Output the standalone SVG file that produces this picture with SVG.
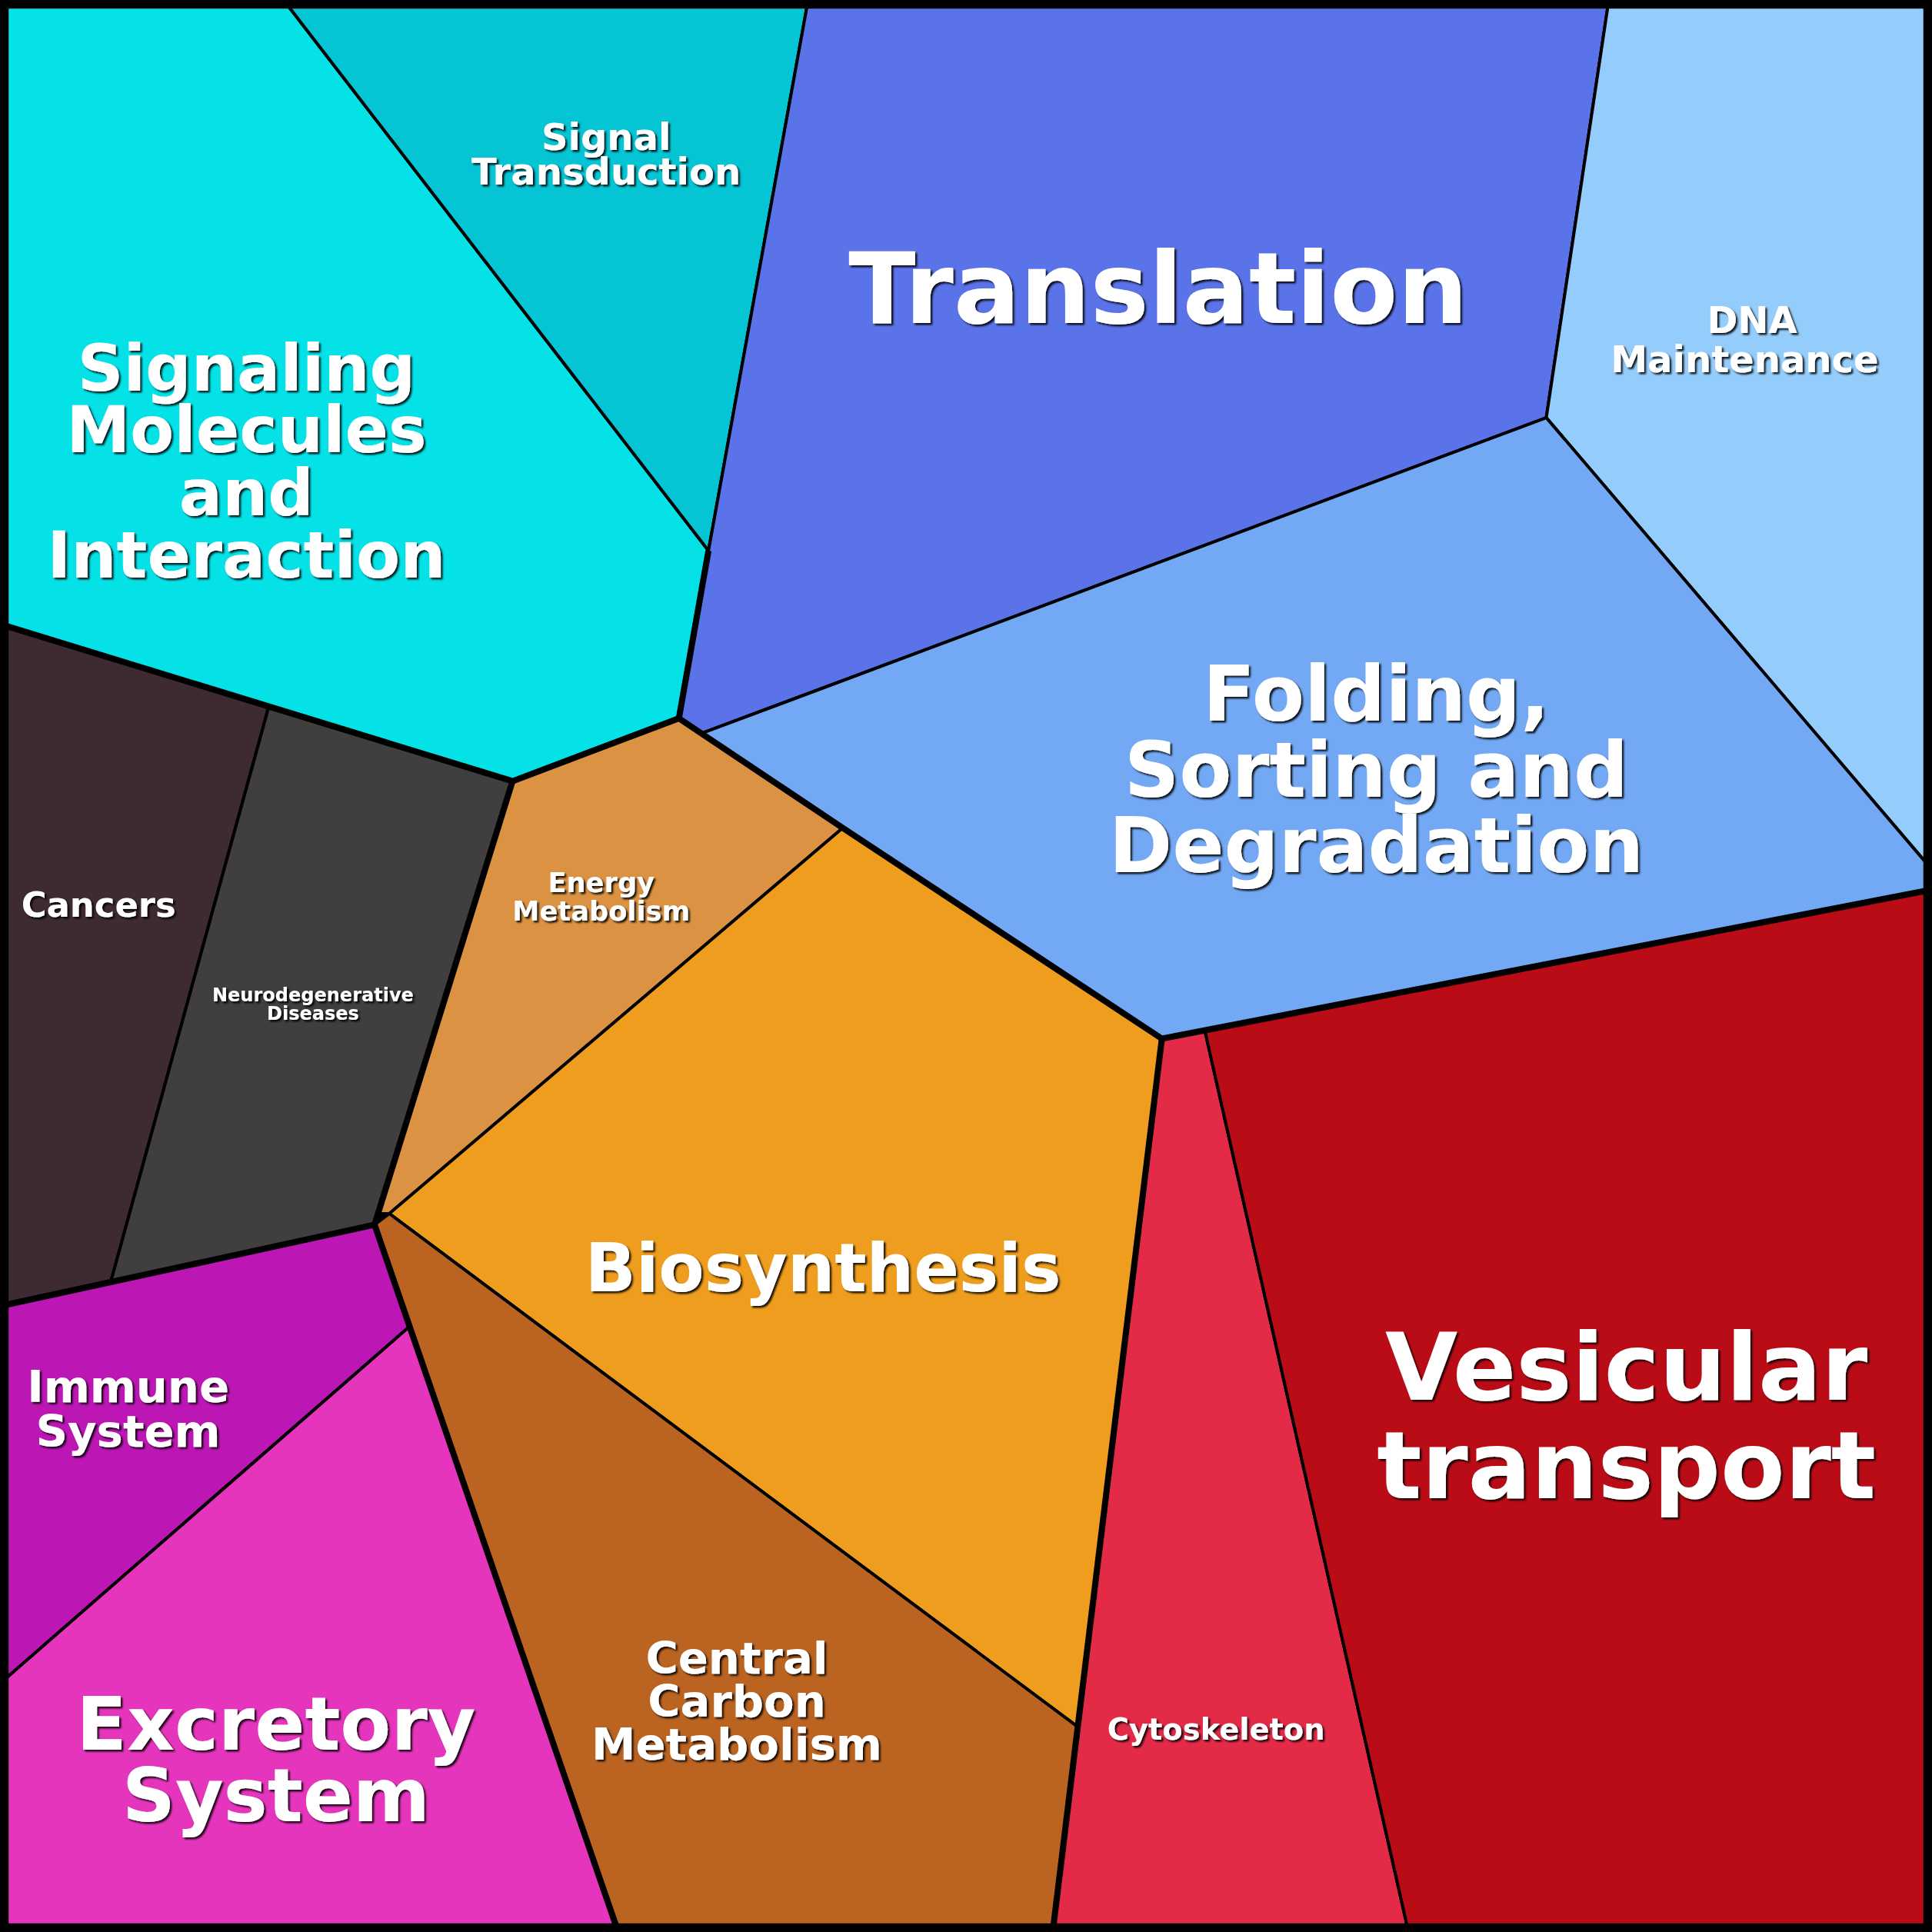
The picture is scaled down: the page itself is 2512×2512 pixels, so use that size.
<svg xmlns="http://www.w3.org/2000/svg" width="2512" height="2512" viewBox="0 0 2512 2512">
<defs>
<filter id="sh" x="-10%" y="-10%" width="120%" height="130%"><feDropShadow dx="1.5" dy="1.5" stdDeviation="0.8" flood-color="#000" flood-opacity="0.9"/></filter>
</defs>
<style>
.c{stroke:#000;stroke-width:2.5;stroke-linejoin:round}
.t{stroke:#000;stroke-width:5;fill:none;stroke-linejoin:round}
text{font-family:"DejaVu Sans",sans-serif;font-weight:bold;fill:#fff;text-anchor:middle;filter:url(#sh)}
</style>
<rect width="2512" height="2512" fill="#000"/>
<g transform="scale(1.602)">
<g id="signaling-molecules"><polygon class="c" fill="#04E2E8" points="5,5 234,5 575,447 551,583 416,634 5,508"/><text font-size="52"><tspan x="200" y="317">Signaling</tspan><tspan x="200" y="367">Molecules</tspan><tspan x="200" y="418">and</tspan><tspan x="200" y="469">Interaction</tspan></text></g>
<g id="signal-transduction"><polygon class="c" fill="#05C4D4" points="234,5 655,5 575,447"/><text font-size="30"><tspan x="492" y="122">Signal</tspan><tspan x="492" y="150">Transduction</tspan></text></g>
<g id="translation"><polygon class="c" fill="#5A73E8" points="655,5 1305,5 1255,339 570,595 551,583 575,447"/><text font-size="80" x="940" y="262">Translation</text></g>
<g id="dna-maintenance"><polygon class="c" fill="#94CDFC" points="1305,5 1563,5 1563,700 1255,339"/><text font-size="30"><tspan x="1422" y="270">DNA</tspan><tspan x="1416" y="302">Maintenance</tspan></text></g>
<g id="folding"><polygon class="c" fill="#73A9F4" points="570,595 1255,339 1563,700 1563,723 943,843 684,672"/><text font-size="62"><tspan x="1117" y="585">Folding,</tspan><tspan x="1117" y="647">Sorting and</tspan><tspan x="1117" y="708">Degradation</tspan></text></g>
<g id="energy-metabolism"><polygon class="c" fill="#DB9343" points="551,583 684,672 316,985 307,985 416,634"/><text font-size="22"><tspan x="488" y="724">Energy</tspan><tspan x="488" y="747">Metabolism</tspan></text></g>
<g id="biosynthesis"><polygon class="c" fill="#EE9D1E" points="684,672 943,843 874,1401 316,985"/><text font-size="54" x="668" y="1048">Biosynthesis</text></g>
<g id="cancers"><polygon class="c" fill="#3D2A33" points="5,508 218,574 90,1040 5,1059"/><text font-size="28" x="80" y="744">Cancers</text></g>
<g id="neurodegenerative"><polygon class="c" fill="#403E3F" points="218,574 416,634 304,994 90,1040"/><text font-size="15"><tspan x="254" y="813">Neurodegenerative</tspan><tspan x="254" y="828">Diseases</tspan></text></g>
<g id="immune"><polygon class="c" fill="#BC16B4" points="5,1059 304,994 332,1077 5,1362"/><text font-size="36"><tspan x="104" y="1138">Immune</tspan><tspan x="104" y="1174">System</tspan></text></g>
<g id="excretory"><polygon class="c" fill="#E635BD" points="5,1362 332,1077 500,1563 5,1563"/><text font-size="60"><tspan x="224" y="1420">Excretory</tspan><tspan x="224" y="1478">System</tspan></text></g>
<g id="central-carbon"><polygon class="c" fill="#BB6422" points="304,994 316,985 874,1401 855,1563 500,1563"/><text font-size="36"><tspan x="598" y="1358">Central</tspan><tspan x="598" y="1393">Carbon</tspan><tspan x="598" y="1428">Metabolism</tspan></text></g>
<g id="cytoskeleton"><polygon class="c" fill="#E32B48" points="943,843 978,837 1142,1563 855,1563"/><text font-size="24" x="987" y="1412">Cytoskeleton</text></g>
<g id="vesicular"><polygon class="c" fill="#BA0C16" points="978,837 1563,723 1563,1563 1142,1563"/><text font-size="76"><tspan x="1320" y="1136">Vesicular</tspan><tspan x="1320" y="1216">transport</tspan></text></g>
<g id="connectors">
<polyline class="t" points="5,508 416,634 551,583 684,672 943,843 1563,723"/>
<polyline class="t" points="551,583 575,447"/>
<polyline class="t" points="416,634 304,994 5,1059"/>
<polyline class="t" points="304,994 500,1563"/>
<polyline class="t" points="943,843 855,1563"/>
<rect x="3.5" y="3.5" width="1561" height="1561" fill="none" stroke="#000" stroke-width="7"/>
</g>
</g>
</svg>
